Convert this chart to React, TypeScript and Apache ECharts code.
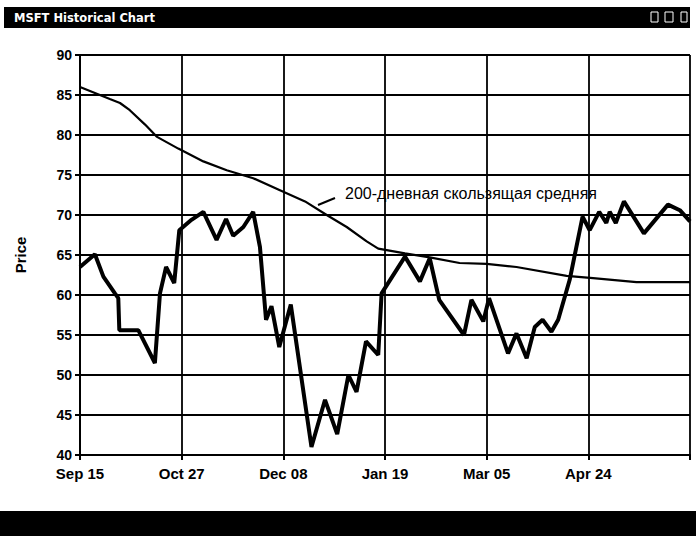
import React, { useEffect, useRef } from "react";
import * as echarts from "echarts";

const xLabels = ["Sep 15", "Oct 27", "Dec 08", "Jan 19", "Mar 05", "Apr 24", ""];

// x = trading-day index (30 per grid column), y = price
const priceX = [0, 4.4, 6.9, 10.3, 11.3, 11.6, 17.2, 22.1, 23.6, 25.4, 27.8, 29.3, 32.9, 36.4, 40.3, 43.1, 45.2, 48.2, 51.1, 53.1, 54.9, 56.5, 58.8, 62.2, 68.3, 72.3, 75.9, 79.2, 81.6, 84.4, 88.0, 89.0, 95.9, 100.3, 103.2, 106.0, 113.3, 115.5, 119.0, 120.7, 126.3, 128.8, 131.8, 134.2, 136.5, 139.1, 141.1, 144.5, 148.3, 150.4, 153.2, 155.3, 156.3, 158.1, 160.5, 166.4, 173.5, 177.0, 180.0];
const priceY = [63.5, 65.1, 62.3, 60.2, 59.6, 55.6, 55.6, 51.5, 60.2, 63.5, 61.5, 68.1, 69.4, 70.4, 66.9, 69.5, 67.4, 68.5, 70.4, 66.0, 56.9, 58.6, 53.5, 58.8, 41.0, 46.9, 42.6, 50.0, 47.9, 54.2, 52.5, 60.2, 64.8, 61.7, 64.6, 59.4, 55.0, 59.4, 56.7, 59.6, 52.7, 55.2, 52.1, 56.0, 56.9, 55.4, 56.9, 61.9, 69.8, 68.1, 70.4, 69.0, 70.4, 69.0, 71.7, 67.7, 71.3, 70.6, 69.2];

const maX = [0, 8.8, 11.8, 14.7, 19.2, 22.6, 29.0, 36.4, 43.3, 51.1, 59.0, 66.4, 72.8, 78.7, 84.6, 88.0, 95.9, 103.2, 112.0, 120.0, 128.8, 143.6, 151.4, 164.2, 180.0];
const maY = [86.0, 84.5, 84.0, 83.1, 81.3, 79.8, 78.3, 76.7, 75.6, 74.6, 73.1, 71.7, 70.0, 68.5, 66.7, 65.8, 65.2, 64.7, 64.0, 63.9, 63.5, 62.4, 62.1, 61.6, 61.6];

const titleText = "MSFT Historical Chart";
const annotationText = "200-дневная скользящая средняя";
const yAxisName = "Price";

export default function App() {
  const ref = useRef<HTMLDivElement>(null);
  useEffect(() => {
    if (!ref.current) return;
    const chart = echarts.init(ref.current, null, { renderer: "svg" });
    const price = priceX.map((x, i) => [x, priceY[i]]);
    const ma = maX.map((x, i) => [x, maY[i]]);
    chart.setOption({
      animation: false,
      backgroundColor: "#ffffff",
      grid: { left: 80, right: 6, top: 55, bottom: 81 },
      xAxis: {
        type: "value",
        min: 0,
        max: 180,
        interval: 30,
        axisLine: { show: true, lineStyle: { color: "#000", width: 2 } },
        axisTick: { show: true, length: 5, lineStyle: { color: "#000", width: 2 } },
        axisLabel: {
          color: "#000",
          fontFamily: "Liberation Sans, Arial, sans-serif",
          fontWeight: "bold",
          fontSize: 15,
          margin: 11,
          formatter: (v: number) => xLabels[Math.round(v / 30)] ?? "",
        },
        splitLine: { show: true, lineStyle: { color: "#000", width: 1.8 } },
      },
      yAxis: {
        type: "value",
        min: 40,
        max: 90,
        interval: 5,
        name: yAxisName,
        nameLocation: "middle",
        nameRotate: 90,
        nameGap: 52,
        nameTextStyle: {
          color: "#000",
          fontFamily: "Liberation Sans, Arial, sans-serif",
          fontWeight: "bold",
          fontSize: 15,
        },
        axisLine: { show: true, lineStyle: { color: "#000", width: 2 } },
        axisTick: { show: true, length: 5, lineStyle: { color: "#000", width: 2 } },
        axisLabel: {
          color: "#000",
          fontFamily: "Liberation Sans, Arial, sans-serif",
          fontWeight: "bold",
          fontSize: 14,
          margin: 8,
        },
        splitLine: { show: true, lineStyle: { color: "#000", width: 1.8 } },
      },
      series: [
        {
          type: "line",
          data: ma,
          symbol: "none",
          lineStyle: { color: "#000", width: 2.2 },
          z: 3,
        },
        {
          type: "line",
          data: price,
          symbol: "none",
          lineStyle: { color: "#000", width: 4 },
          z: 4,
        },
      ],
      graphic: [
        { type: "rect", shape: { x: 4, y: 7, width: 686, height: 21 }, style: { fill: "#000" } },
        {
          type: "text",
          x: 14,
          y: 17.5,
          style: {
            text: titleText,
            fill: "#fff",
            font: "bold 11.5px 'DejaVu Sans', sans-serif",
            verticalAlign: "middle",
          },
        },
        { type: "rect", shape: { x: 651, y: 12, width: 7, height: 10 }, style: { fill: "none", stroke: "#fff", lineWidth: 1 } },
        { type: "rect", shape: { x: 665, y: 12, width: 8, height: 10 }, style: { fill: "none", stroke: "#fff", lineWidth: 1 } },
        { type: "rect", shape: { x: 681, y: 12, width: 6, height: 10 }, style: { fill: "none", stroke: "#fff", lineWidth: 1 } },
        { type: "rect", shape: { x: 0, y: 511, width: 696, height: 25 }, style: { fill: "#000" } },
        {
          type: "line",
          shape: { x1: 318, y1: 205, x2: 335, y2: 198 },
          style: { stroke: "#000", lineWidth: 2 },
        },
        {
          type: "text",
          x: 345,
          y: 193,
          style: {
            text: annotationText,
            fill: "#000",
            font: "16px 'Liberation Sans', Arial, sans-serif",
            verticalAlign: "middle",
          },
        },
      ],
    });
    return () => chart.dispose();
  }, []);
  return (
    <div
      ref={ref}
      style={{ position: "absolute", left: 0, top: 0, width: 696, height: 536 }}
    />
  );
}
